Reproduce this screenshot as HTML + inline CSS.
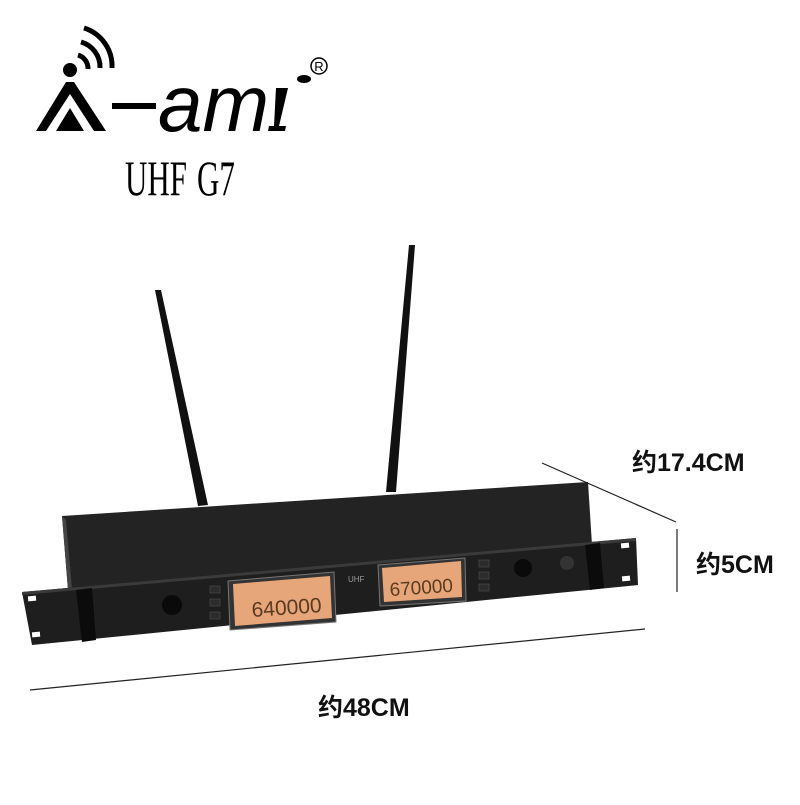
<!DOCTYPE html>
<html><head><meta charset="utf-8"><style>
body{margin:0;background:#fff;width:800px;height:800px;overflow:hidden;}
</style></head><body>
<svg width="800" height="800" viewBox="0 0 800 800" xmlns="http://www.w3.org/2000/svg">
<!-- logo -->
<g fill="#000">
  <circle cx="70" cy="70" r="7"/>
  <path d="M78 55 a14 14 0 0 1 10 14" stroke="#000" stroke-width="5" fill="none"/>
  <path d="M81 42 a26 26 0 0 1 19 26" stroke="#000" stroke-width="5" fill="none"/>
  <path d="M84 28 a40 40 0 0 1 28 40" stroke="#000" stroke-width="5" fill="none"/>
  <path d="M66 82 L74 82 L106 131 L94 131 L70 94 L46 131 L36 131 Z"/>
  <path d="M56 131 L70 108 L84 131 Z"/>
  <rect x="112" y="103" width="44" height="6"/>
  <text x="158" y="131" font-family="Liberation Sans, sans-serif" font-size="80" font-style="italic">am</text>
  <path d="M276 88 L288 88 L279 126 L286 126 L285 131 L268 131 L269 126 L274 126 Z"/>
  <ellipse cx="304" cy="79" rx="7" ry="4"/>
  <circle cx="319" cy="66" r="8" fill="none" stroke="#000" stroke-width="1.5"/>
  <text x="319" y="71" font-family="Liberation Sans, sans-serif" font-size="13" text-anchor="middle">R</text>
</g>
<text x="0" y="0" font-family="Liberation Serif, serif" font-size="50" transform="translate(125,195) scale(0.62,1)">UHF</text>
<text x="0" y="0" font-family="Liberation Serif, serif" font-size="50" transform="translate(197,195) scale(0.62,1)">G7</text>

<!-- antennas -->
<path d="M155 290 L161 290 L208 505 L198 506 Z" fill="#111"/>
<path d="M409 245 L415 245 L396 492 L386 492 Z" fill="#111"/>
<!-- top surface -->
<polygon points="62,516 588,482 592,545 68,590" fill="#232323"/>
<polygon points="62,516 68,590 72,590 66,520" fill="#444"/>
<!-- front panel -->
<polygon points="22,592 636,538 638,585 32,645" fill="#1e1e1e"/>
<polygon points="22,592 636,538 636,541 22,595" fill="#3a3a3a"/>
<!-- ears -->
<rect x="28" y="596" width="8" height="5" fill="#fff" transform="rotate(-5 32 598)"/>
<rect x="32" y="632" width="8" height="5" fill="#fff" transform="rotate(-5 36 634)"/>
<rect x="621" y="543" width="8" height="5" fill="#fff" transform="rotate(-5 625 545)"/>
<rect x="622" y="576" width="8" height="5" fill="#fff" transform="rotate(-5 626 578)"/>
<polygon points="76,590 92,588 96,640 82,642" fill="#0b0b0b"/>
<polygon points="585,545 600,543 604,588 590,590" fill="#0b0b0b"/>
<!-- knobs -->
<circle cx="172" cy="605" r="10" fill="#0a0a0a"/>
<circle cx="523" cy="568" r="9" fill="#0a0a0a"/>
<circle cx="567" cy="563" r="7" fill="#333"/>
<!-- buttons -->
<g fill="#2c2c2c" stroke="#555" stroke-width="0.5">
<rect x="210" y="586" width="10" height="7"/><rect x="210" y="599" width="10" height="7"/><rect x="210" y="612" width="10" height="7"/>
<rect x="479" y="560" width="10" height="7"/><rect x="479" y="572" width="10" height="7"/><rect x="479" y="584" width="10" height="7"/>
</g>
<!-- LCDs -->
<polygon points="228,581 334,572 336,622 230,630" fill="#333" stroke="#777"/>
<polygon points="233,584 330,576 332,618 235,626" fill="#e7a679"/>
<text x="252" y="617" font-family="Liberation Sans, sans-serif" font-size="21" fill="#5a3a20" transform="rotate(-4 252 615)">640000</text>
<polygon points="378,565 465,558 466,601 380,606" fill="#333" stroke="#777"/>
<polygon points="382,568 461,561 462,597 384,602" fill="#e7a679"/>
<text x="390" y="596" font-family="Liberation Sans, sans-serif" font-size="19" fill="#5a3a20" transform="rotate(-4 391 595)">670000</text>
<text x="348" y="582" font-family="Liberation Sans, sans-serif" font-size="8" fill="#999">UHF</text>

<!-- dimension lines -->
<g stroke="#222" stroke-width="1.2">
<line x1="542" y1="463" x2="676" y2="522"/>
<line x1="677" y1="529" x2="677" y2="592"/>
<line x1="30" y1="690" x2="645" y2="629"/>
</g>
<g font-family="Liberation Sans, 'Noto Sans CJK SC', sans-serif" font-weight="bold" fill="#111">
<text x="632" y="471" font-size="25">约17.4CM</text>
<text x="696" y="573" font-size="25">约5CM</text>
<text x="318" y="716" font-size="25">约48CM</text>
</g>
</svg>
</body></html>
